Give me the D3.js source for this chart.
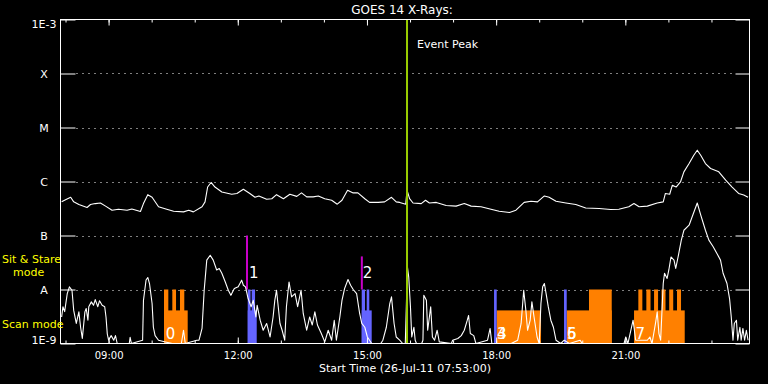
<!DOCTYPE html>
<html>
<head>
<meta charset="utf-8">
<script src="https://cdn.jsdelivr.net/npm/d3@7"></script>
<style>
  body { margin: 0; background: #000; }
  svg { display: block; background: #000; font-family: 'DejaVu Sans', sans-serif; }
  text { fill: #fff; }
</style>
</head>
<body>
<svg></svg>
<script>
// GOES 14 long channel (1-8 A), [hour of day, W/m^2]
const longChannel = [
  [7.91, 4.2e-7], [8.0, 4.6e-7], [8.12, 5.1e-7], [8.19, 4.2e-7], [8.31, 3.75e-7],
  [8.5, 3.3e-7], [8.58, 3.75e-7], [8.69, 3.9e-7], [8.81, 4.0e-7], [8.93, 3.5e-7],
  [9.08, 2.94e-7], [9.23, 3.07e-7], [9.43, 2.94e-7], [9.54, 3.1e-7], [9.74, 2.78e-7],
  [9.81, 3.9e-7], [9.91, 5.7e-7], [10.01, 5.1e-7], [10.16, 3.4e-7], [10.35, 3.07e-7],
  [10.51, 2.82e-7], [10.74, 2.74e-7], [10.86, 2.94e-7], [10.97, 2.74e-7], [11.17, 3.4e-7],
  [11.24, 4.2e-7], [11.3, 7.9e-7], [11.38, 9.6e-7], [11.47, 7.9e-7], [11.63, 6.4e-7],
  [11.86, 5.8e-7], [11.98, 6.0e-7], [12.13, 7.2e-7], [12.28, 6.0e-7], [12.4, 5.1e-7],
  [12.49, 5.4e-7], [12.67, 4.7e-7], [12.79, 4.8e-7], [12.9, 5.7e-7], [13.06, 4.8e-7],
  [13.21, 5.8e-7], [13.37, 5.3e-7], [13.48, 6.15e-7], [13.6, 5.2e-7], [13.75, 5.2e-7],
  [13.87, 5.4e-7], [14.02, 4.8e-7], [14.18, 4.5e-7], [14.31, 3.8e-7], [14.42, 4.5e-7],
  [14.55, 6.9e-7], [14.68, 6.15e-7], [14.79, 6.15e-7], [14.95, 4.8e-7], [15.06, 4.1e-7],
  [15.26, 4.1e-7], [15.41, 4.2e-7], [15.57, 5.1e-7], [15.68, 4.2e-7], [15.76, 4.1e-7],
  [15.9, 3.8e-7], [15.93, 6.9e-7], [15.99, 4.8e-7], [16.07, 4.0e-7], [16.26, 3.9e-7],
  [16.36, 4.5e-7], [16.45, 4.0e-7], [16.61, 4.1e-7], [16.84, 3.6e-7], [17.07, 3.5e-7],
  [17.26, 3.9e-7], [17.42, 3.5e-7], [17.65, 3.4e-7], [17.88, 3.07e-7], [18.07, 2.82e-7],
  [18.31, 2.67e-7], [18.46, 2.94e-7], [18.65, 4.1e-7], [18.81, 4.3e-7], [18.96, 4.2e-7],
  [19.12, 5.4e-7], [19.23, 5.1e-7], [19.39, 4.3e-7], [19.62, 4.0e-7], [19.85, 3.75e-7],
  [20.08, 3.24e-7], [20.39, 3.16e-7], [20.66, 3.03e-7], [20.85, 3.07e-7], [21.08, 3.4e-7],
  [21.2, 3.9e-7], [21.32, 3.4e-7], [21.51, 3.5e-7], [21.74, 4.0e-7], [21.88, 4.2e-7],
  [21.93, 6.0e-7], [22.03, 5.8e-7], [22.09, 8.5e-7], [22.18, 7.9e-7], [22.28, 9.8e-7],
  [22.36, 1.51e-6], [22.48, 2.15e-6], [22.59, 3.07e-6], [22.67, 3.8e-6], [22.75, 3.07e-6],
  [22.86, 2.15e-6], [22.98, 1.74e-6], [23.17, 1.51e-6], [23.33, 1.06e-6], [23.48, 7.9e-7],
  [23.63, 6.0e-7], [23.75, 5.6e-7], [23.85, 5.1e-7]
];

// GOES 14 short channel (0.5-4 A), [hour of day, W/m^2]
const shortChannel = [
  [7.91, 3.1e-9], [7.94, 4.8e-9], [7.98, 3.9e-9], [8.04, 8.4e-9], [8.09, 1.12e-8],
  [8.15, 9.7e-9], [8.19, 4.1e-9], [8.25, 2.35e-9], [8.31, 3.85e-9], [8.35, 2.0e-9],
  [8.39, 1.24e-9], [8.45, 3.85e-9], [8.48, 4.45e-9], [8.52, 2.7e-9], [8.54, 4.8e-9],
  [8.6, 5.9e-9], [8.65, 5.1e-9], [8.69, 6.5e-9], [8.75, 4.8e-9], [8.79, 6.2e-9],
  [8.85, 5.1e-9], [8.91, 4.8e-9], [8.94, 3.1e-9], [8.97, 1.5e-9], [9.0, 1.15e-9],
  [9.06, 1.4e-9], [9.12, 1.15e-9], [9.16, 1.4e-9], [9.2, 1e-9], [9.48, 1e-9],
  [9.5, 1.3e-9], [9.53, 1e-9], [9.79, 1.15e-9], [9.81, 6.3e-9], [9.87, 1.5e-8],
  [9.91, 1.67e-8], [9.95, 1.29e-8], [10.01, 5.5e-9], [10.04, 2.0e-9], [10.08, 1.4e-9],
  [10.16, 1.15e-9], [10.32, 1.07e-9], [10.48, 1e-9], [10.69, 1e-9], [10.74, 1.76e-9],
  [10.78, 1e-9], [11.05, 1.15e-9], [11.1, 1.15e-9], [11.17, 1.9e-9], [11.22, 9.7e-9],
  [11.28, 3.5e-8], [11.36, 4.3e-8], [11.43, 3.5e-8], [11.51, 2.3e-8], [11.57, 2.45e-8],
  [11.63, 2.0e-8], [11.71, 1.38e-8], [11.78, 9.7e-9], [11.84, 7.8e-9], [11.92, 1.04e-8],
  [12.01, 1.12e-8], [12.09, 1.49e-8], [12.13, 1.2e-8], [12.18, 1.12e-8], [12.24, 6.8e-9],
  [12.31, 4.8e-9], [12.36, 6.3e-9], [12.42, 3.1e-9], [12.45, 5.1e-9], [12.52, 2.7e-9],
  [12.59, 1.76e-9], [12.67, 2.35e-9], [12.75, 1.32e-9], [12.82, 3.1e-9], [12.86, 6.3e-9],
  [12.9, 9.7e-9], [12.94, 4.8e-9], [12.98, 2.35e-9], [13.03, 1.76e-9], [13.09, 1.15e-9],
  [13.13, 4.8e-9], [13.19, 1.38e-8], [13.25, 7.3e-9], [13.33, 8.4e-9], [13.39, 4.8e-9],
  [13.47, 9.7e-9], [13.52, 3.6e-9], [13.6, 1.76e-9], [13.67, 3.1e-9], [13.73, 2.2e-9],
  [13.79, 3.85e-9], [13.85, 2.2e-9], [13.94, 1.53e-9], [14.02, 1.07e-9], [14.1, 1.76e-9],
  [14.18, 1.15e-9], [14.24, 2.7e-9], [14.29, 1.15e-9], [14.37, 3.1e-9], [14.42, 6.3e-9],
  [14.48, 1.04e-8], [14.56, 1.53e-8], [14.62, 1.2e-8], [14.68, 1.0e-8], [14.76, 8.4e-9],
  [14.83, 3.6e-9], [14.88, 2.35e-9], [14.95, 2.0e-9], [15.01, 1.32e-9], [15.06, 1.15e-9],
  [15.11, 1e-9], [15.32, 1e-9], [15.37, 1.15e-9], [15.45, 2.0e-9], [15.53, 5.5e-9],
  [15.57, 7.3e-9], [15.63, 2.35e-9], [15.68, 1.32e-9], [15.76, 1.15e-9], [15.83, 1e-9],
  [15.89, 1e-9], [15.94, 2.6e-8], [15.97, 1.7e-8], [16.01, 4.8e-9], [16.04, 1.32e-9],
  [16.09, 2.0e-9], [16.12, 1.15e-9], [16.15, 1e-9], [16.27, 1e-9], [16.3, 1.15e-9],
  [16.32, 7.8e-9], [16.38, 6.3e-9], [16.41, 1.76e-9], [16.48, 4.8e-9], [16.52, 1.32e-9],
  [16.57, 1.15e-9], [16.63, 1.76e-9], [16.68, 1.07e-9], [16.96, 1e-9], [16.99, 1.15e-9],
  [17.11, 1.24e-9], [17.19, 1.4e-9], [17.26, 1.76e-9], [17.33, 2.7e-9], [17.36, 3.3e-9],
  [17.4, 1.53e-9], [17.48, 1.4e-9], [17.53, 1e-9], [17.8, 1.15e-9], [17.86, 1.9e-9],
  [17.9, 1e-9], [18.35, 1e-9], [18.5, 1.15e-9], [18.58, 2.35e-9], [18.64, 9.7e-9],
  [18.69, 4.1e-9], [18.73, 1.76e-9], [18.79, 2.7e-9], [18.83, 5.9e-9], [18.88, 3.1e-9],
  [18.95, 1.32e-9], [19.0, 1e-9], [19.04, 5.5e-9], [19.08, 1.12e-8], [19.12, 1.29e-8],
  [19.16, 8.4e-9], [19.21, 4.8e-9], [19.27, 2.7e-9], [19.33, 2.0e-9], [19.39, 1.15e-9],
  [19.5, 1e-9], [19.58, 1.15e-9], [19.7, 1e-9], [19.95, 1.15e-9], [20.0, 1e-9],
  [20.97, 1e-9], [21.01, 1.32e-9], [21.06, 1e-9], [21.12, 1.64e-9], [21.18, 2.7e-9],
  [21.24, 1.15e-9], [21.51, 1.15e-9], [21.57, 1.32e-9], [21.62, 1e-9], [21.7, 2.35e-9],
  [21.74, 3.85e-9], [21.78, 1.53e-9], [21.82, 1.15e-9], [21.88, 1.29e-8], [21.91, 2.0e-8],
  [21.97, 1.6e-8], [22.01, 2.3e-8], [22.06, 4.0e-8], [22.13, 3.5e-8], [22.17, 2.45e-8],
  [22.24, 4.6e-8], [22.3, 8.2e-8], [22.36, 1.25e-7], [22.48, 1.55e-7], [22.55, 2.2e-7],
  [22.67, 4.0e-7], [22.75, 2.4e-7], [22.86, 1.25e-7], [22.94, 8.2e-8], [23.04, 6.2e-8],
  [23.13, 4.6e-8], [23.21, 3.5e-8], [23.27, 2.0e-8], [23.36, 1.29e-8], [23.42, 6.8e-9],
  [23.46, 3.1e-9], [23.5, 1.15e-9], [23.53, 2.35e-9], [23.58, 2.7e-9], [23.61, 1.15e-9],
  [23.66, 2.0e-9], [23.69, 1.15e-9], [23.73, 1.9e-9], [23.77, 1.15e-9], [23.81, 1.76e-9],
  [23.85, 1.15e-9]
];

// y axis levels
const levelValues = [1e-9, 1e-8, 1e-7, 1e-6, 1e-5, 1e-4, 1e-3];
const levelNames = ['1E-9', 'A', 'B', 'C', 'M', 'X', '1E-3'];

// observing blocks: [start hour, end hour, top level]
const tallLevel = 1e-8;
const lowLevel = 4.1e-9;
const scanBlocks = [
  [10.287, 10.837, lowLevel], [10.287, 10.387, tallLevel], [10.48, 10.566, tallLevel], [10.658, 10.758, tallLevel],
  [18.013, 19.042, lowLevel],
  [19.639, 20.684, lowLevel], [20.156, 20.684, tallLevel],
  [21.202, 22.379, lowLevel], [21.302, 21.395, tallLevel], [21.488, 21.585, tallLevel], [21.667, 21.76, tallLevel],
  [21.84, 21.933, tallLevel], [22.019, 22.112, tallLevel], [22.2, 22.293, tallLevel]
];
const stareBlocks = [
  [12.231, 12.44, lowLevel], [12.231, 12.296, tallLevel], [12.324, 12.401, tallLevel],
  [14.878, 15.11, lowLevel], [14.878, 14.955, tallLevel], [14.994, 15.054, tallLevel],
  [17.951, 18.013, tallLevel],
  [19.576, 19.639, tallLevel]
];

// sit & stare start markers: [hour, top flux]
const stareMarkers = [[12.214, 1e-7], [14.881, 4.1e-8]];

// block numbers: [label, hour, flux at baseline]
const blockLabels = [
  ['0', 10.326, 1.2e-9], ['1', 12.261, 1.65e-8], ['2', 14.901, 1.65e-8],
  ['3', 18.02, 1.2e-9], ['4', 18.02, 1.2e-9], ['5', 19.646, 1.2e-9],
  ['6', 19.646, 1.2e-9], ['7', 21.237, 1.2e-9]
];

const eventPeakHour = 15.93;
const startHour = 7 + 53 / 60;
const endHour = 23 + 53 / 60;

const width = 768;
const height = 384;
const plotLeft = 60.5;
const plotRight = 749.5;
const plotTop = 19.5;
const plotBottom = 343.5;

const svg = d3.select('svg').attr('width', width).attr('height', height);

const toDate = (h) => new Date(2011, 6, 26, 0, 0, Math.round(h * 3600));

const xScale = d3.scaleTime().domain([toDate(startHour), toDate(endHour)]).range([plotLeft, plotRight]);
const yScale = d3.scaleLog().domain([1e-9, 1e-3]).range([plotBottom, plotTop]).clamp(true);

// dotted level lines
svg
  .selectAll('line.grid')
  .data(levelValues.slice(1, -1))
  .enter()
  .append('line')
  .attr('class', 'grid')
  .attr('x1', plotLeft + 16)
  .attr('x2', plotRight - 14)
  .attr('y1', (d) => Math.round(yScale(d)) + 0.5)
  .attr('y2', (d) => Math.round(yScale(d)) + 0.5)
  .attr('stroke', '#fff')
  .attr('stroke-dasharray', '1,5');

const drawBlocks = (blocks, color) => {
  svg
    .append('g')
    .selectAll('rect')
    .data(blocks)
    .enter()
    .append('rect')
    .attr('x', (d) => xScale(toDate(d[0])))
    .attr('width', (d) => xScale(toDate(d[1])) - xScale(toDate(d[0])))
    .attr('y', (d) => yScale(d[2]))
    .attr('height', (d) => plotBottom - yScale(d[2]))
    .attr('fill', color);
};
drawBlocks(scanBlocks, '#ff8000');
drawBlocks(stareBlocks, '#6464ff');

svg
  .selectAll('line.marker')
  .data(stareMarkers)
  .enter()
  .append('line')
  .attr('class', 'marker')
  .attr('x1', (d) => xScale(toDate(d[0])))
  .attr('x2', (d) => xScale(toDate(d[0])))
  .attr('y1', (d) => yScale(d[1]))
  .attr('y2', yScale(tallLevel))
  .attr('stroke', '#c800c8')
  .attr('stroke-width', 2);

const line = d3
  .line()
  .x((d) => xScale(toDate(d[0])))
  .y((d) => yScale(d[1]));

[longChannel, shortChannel].forEach((series) => {
  svg
    .append('path')
    .datum(series)
    .attr('d', line)
    .attr('fill', 'none')
    .attr('stroke', '#fff')
    .attr('stroke-width', 1.1)
    .attr('stroke-linejoin', 'round');
});

// event peak
svg
  .append('line')
  .attr('x1', xScale(toDate(eventPeakHour)))
  .attr('x2', xScale(toDate(eventPeakHour)))
  .attr('y1', plotTop)
  .attr('y2', plotBottom)
  .attr('stroke', '#99cc00')
  .attr('stroke-width', 2);

svg
  .append('text')
  .attr('x', xScale(toDate(eventPeakHour)) + 10)
  .attr('y', 47.5)
  .attr('font-size', 11)
  .text('Event Peak');

svg
  .selectAll('text.num')
  .data(blockLabels)
  .enter()
  .append('text')
  .attr('class', 'num')
  .attr('x', (d) => xScale(toDate(d[1])))
  .attr('y', (d) => yScale(d[2]))
  .attr('font-size', 15)
  .text((d) => d[0]);

// axes
const generateAxes = () => {
  const timeFormat = d3.timeFormat('%H:%M');

  const bottomAxis = d3
    .axisBottom(xScale)
    .ticks(d3.timeHour.every(3))
    .tickFormat(timeFormat)
    .tickSizeInner(-6)
    .tickSizeOuter(0)
    .tickPadding(8);
  const bottomMinor = d3.axisBottom(xScale).ticks(d3.timeHour.every(1)).tickFormat('').tickSizeInner(-3).tickSizeOuter(0);
  const topAxis = d3.axisTop(xScale).ticks(d3.timeHour.every(3)).tickFormat('').tickSizeInner(-6).tickSizeOuter(0);
  const topMinor = d3.axisTop(xScale).ticks(d3.timeHour.every(1)).tickFormat('').tickSizeInner(-3).tickSizeOuter(0);

  svg.append('g').attr('transform', 'translate(0,' + plotBottom + ')').call(bottomMinor);
  svg.append('g').attr('id', 'x-axis').attr('transform', 'translate(0,' + plotBottom + ')').call(bottomAxis);
  svg.append('g').attr('transform', 'translate(0,' + plotTop + ')').call(topMinor);
  svg.append('g').attr('transform', 'translate(0,' + plotTop + ')').call(topAxis);

  const yAxis = d3
    .axisLeft(yScale)
    .tickValues(levelValues)
    .tickFormat((d, i) => levelNames[i])
    .tickSizeInner(-15)
    .tickSizeOuter(0)
    .tickPadding(16.5);
  const yAxisRight = d3.axisRight(yScale).tickValues(levelValues).tickFormat('').tickSizeInner(-14).tickSizeOuter(0);

  svg.append('g').attr('id', 'y-axis').attr('transform', 'translate(' + plotLeft + ',0)').call(yAxis);
  svg.append('g').attr('transform', 'translate(' + plotRight + ',0)').call(yAxisRight);

  svg.selectAll('.domain').remove();
  svg.selectAll('.tick line').attr('stroke', '#fff');
  svg
    .selectAll('.tick text')
    .attr('fill', '#fff')
    .attr('font-family', "'DejaVu Sans', sans-serif");
  svg.select('#x-axis').selectAll('text').attr('font-size', 10);
  svg
    .select('#y-axis')
    .selectAll('text')
    .attr('font-size', 11)
    .attr('text-anchor', 'middle')
    .attr('dy', (d, i) => (i === levelValues.length - 1 ? '0.73em' : i === 0 ? '0em' : '0.36em'));

  svg
    .append('rect')
    .attr('x', plotLeft)
    .attr('y', plotTop)
    .attr('width', plotRight - plotLeft)
    .attr('height', plotBottom - plotTop)
    .attr('fill', 'none')
    .attr('stroke', '#fff');
};
generateAxes();

// titles
svg.append('text').attr('x', 402).attr('y', 13.5).attr('text-anchor', 'middle').attr('font-size', 12).text('GOES 14 X-Rays:');
svg
  .append('text')
  .attr('x', 405)
  .attr('y', 371.5)
  .attr('text-anchor', 'middle')
  .attr('font-size', 11)
  .text('Start Time (26-Jul-11 07:53:00)');

const yellowLabels = [
  ['Sit & Stare', 2, 262.5],
  ['mode', 13, 276],
  ['Scan mode', 2, 327.5],
];
yellowLabels.forEach((d) => {
  svg.append('text').attr('x', d[1]).attr('y', d[2]).attr('font-size', 11).style('fill', '#ffff00').text(d[0]);
});
</script>
</body>
</html>
